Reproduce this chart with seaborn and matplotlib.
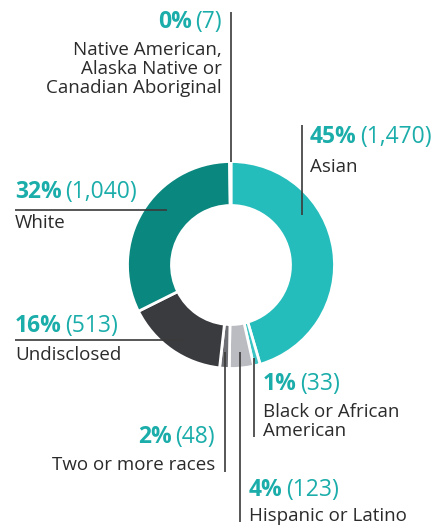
import matplotlib
matplotlib.use("Agg")
import matplotlib.pyplot as plt
import seaborn as sns

sns.set_theme(style="white")
plt.rcParams['font.family'] = ['Open Sans', 'DejaVu Sans']

# data, clockwise from the top
groups = ['Asian', 'Black or African\nAmerican', 'Hispanic or Latino', 'Two or more races',
          'Undisclosed', 'White', 'Native American,\nAlaska Native or\nCanadian Aboriginal']
counts = [1470, 33, 123, 48, 513, 1040, 7]
count_labels = ['(1,470)', '(33)', '(123)', '(48)', '(513)', '(1,040)', '(7)']
pct_labels = ['45%', '1%', '4%', '2%', '16%', '32%', '0%']
colors = ['#25bdbb', '#3cc3c3', '#babcc2', '#6d6f74', '#3a3b3f', '#0a877e', '#9a9ca0']

teal = '#1badaa'
ink = '#2b2b2b'
line_c = '#3a3a3a'

# label layout (pixels): x, align, pct baseline, first label baseline, leader line
layout = [
    (310, 'left', 143, 172, [(302, 125), (302, 215)]),
    (263, 'left', 390, 417, [(254, 358), (254, 437)]),
    (249, 'left', 496, 521, [(240, 352), (240, 522)]),
    (215, 'right', 443, 470, [(225, 352), (225, 472)]),
    (15, 'left', 332, 360, [(15, 340), (183, 340)]),
    (15, 'left', 198, 228, [(15, 210), (167, 210)]),
    (222, 'right', 28, 55, [(231, 12), (231, 162)]),
]

fig = plt.figure(figsize=(4.37, 5.27), dpi=100)
ax = fig.add_axes([0, 0, 1, 1])

ax.pie(counts, colors=colors, startangle=-90, counterclock=True,
       radius=103.5, center=(231, 265),
       wedgeprops=dict(width=44, edgecolor='white', linewidth=2))
ax.set_xlim(0, 437)
ax.set_ylim(527, 0)
ax.set_aspect('equal')
ax.axis('off')

for g, pct, cnt, (x, ha, yp, yl, pts) in zip(groups, pct_labels, count_labels, layout):
    xs, ys = zip(*pts)
    ax.plot(xs, ys, color=line_c, lw=1.2, solid_capstyle='butt', zorder=3)
    if ha == 'left':
        t = ax.text(x, yp, pct, fontsize=16.5, fontweight='bold', color=teal,
                    ha='left', va='baseline')
        ax.annotate(cnt, xy=(1, 0), xycoords=t, xytext=(2.5, 0), textcoords='offset points',
                    fontsize=16.5, color=teal, ha='left', va='bottom')
    else:
        t = ax.text(x, yp, cnt, fontsize=16.5, color=teal, ha='right', va='baseline')
        ax.annotate(pct, xy=(0, 0), xycoords=t, xytext=(-2.5, 0), textcoords='offset points',
                    fontsize=16.5, fontweight='bold', color=teal, ha='right', va='bottom')
    for i, line in enumerate(g.split('\n')):
        ax.text(x, yl + 19 * i, line, fontsize=13.5, color=ink, ha=ha, va='baseline')

fig.savefig('out.png', dpi=100)
